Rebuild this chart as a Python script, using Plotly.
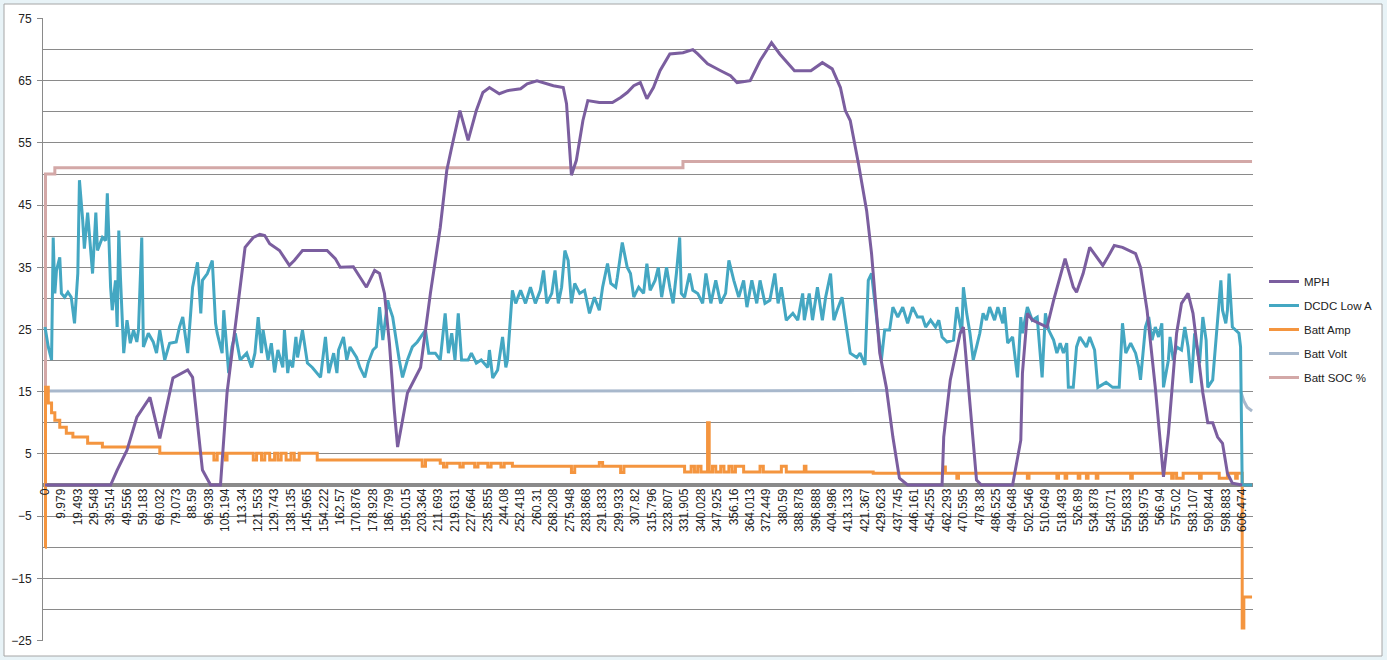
import plotly.graph_objects as go

# Category labels (time stamps), one label every 10 records
tick_labels = ["0", "9.979", "19.493", "29.548", "39.514", "49.556", "59.183", "69.032", "79.073", "88.59",
               "96.938", "105.194", "113.34", "121.553", "129.743", "138.135", "145.965", "154.222", "162.57",
               "170.876", "178.928", "186.799", "195.015", "203.364", "211.693", "219.631", "227.664", "235.855",
               "244.08", "252.418", "260.31", "268.208", "275.948", "283.868", "291.833", "299.933", "307.82",
               "315.796", "323.807", "331.905", "340.028", "347.925", "356.16", "364.013", "372.449", "380.59",
               "388.878", "396.888", "404.986", "413.133", "421.367", "429.623", "437.745", "446.161", "454.255",
               "462.293", "470.595", "478.38", "486.525", "494.648", "502.546", "510.649", "518.493", "526.89",
               "534.878", "543.071", "550.833", "558.975", "566.94", "575.02", "583.107", "590.844", "598.883",
               "606.474"]
tick_records = [10 * i for i in range(len(tick_labels))]

# MPH
mph_x = [0, 40, 44, 50, 56, 64, 70, 78, 87, 90, 96, 101, 107, 111, 122, 127, 131, 134, 137, 143, 149, 152, 157,
         172, 177, 180, 188, 192, 196, 201, 204, 207, 210, 213, 215, 218, 221, 229, 235, 241, 245, 248, 253, 258,
         263, 267, 271, 277, 282, 290, 294, 300, 306, 310, 316, 318, 321, 324, 328, 331, 338, 346, 351, 355, 359,
         363, 367, 371, 375, 381, 389, 395, 398, 404, 412, 418, 422, 430, 436, 443, 448, 457, 467, 474, 480, 485,
         488, 491, 496, 501, 504, 509, 513, 517, 521, 526, 547, 548, 552, 558, 560, 564, 568, 571, 590, 595, 596,
         599, 602, 611, 615, 622, 627, 629, 633, 637, 645, 648, 652, 657, 665, 668, 672, 677, 682, 685, 690, 693,
         697, 700, 706, 709, 712, 715, 718, 721, 724, 730]
mph_y = [0, 0, 2.4, 5.6, 10.9, 14.1, 7.5, 17.2, 18.5, 17.3, 2.4, 0, 0, 14.8, 38.2, 39.8, 40.3, 40.1, 38.8, 37.7,
         35.3, 36.1, 37.7, 37.7, 36.4, 35.0, 35.1, 33.4, 31.8, 34.5, 34.0, 30.8, 22.8, 12, 6.1, 10.4, 14.8, 18.9,
         30.8, 41.4, 50.6, 54.3, 60.2, 55.4, 60.2, 63.1, 63.9, 62.9, 63.4, 63.7, 64.5, 65, 64.5, 64.2, 63.9, 61.3,
         49.8, 52.2, 58.6, 61.8, 61.5, 61.5, 62.3, 63.1, 64.2, 64.7, 62.1, 63.9, 66.6, 69.3, 69.5, 70, 69.3, 67.7,
         66.6, 65.8, 64.7, 65, 68.2, 71.1, 69.3, 66.6, 66.6, 67.9, 66.9, 63.9, 60.2, 58.6, 51.7, 44.1, 37.2, 21.2,
         15.7, 7.7, 1.1, 0, 0, 7.7, 16.9, 24.4, 25.4, 13.2, 0.8, 0, 0, 7.2, 18, 27.6, 26.5, 25.4, 29.7, 36.4, 31.8,
         31, 34, 38.2, 35.3, 36.6, 38.5, 38.2, 37.2, 35, 28.1, 15.7, 1.3, 8.3, 24.4, 29.2, 30.8, 27.6, 14.8, 10,
         10, 7.7, 6.7, 1.9, 0.3, 0]

# DCDC Low A
dcdc_x = [0, 2, 4, 5, 6, 7, 9, 10, 12, 14, 16, 18, 20, 21, 23, 24, 26, 27, 29, 31, 32, 35, 37, 38, 40, 41, 43, 44,
          45, 46, 48, 50, 52, 54, 56, 57, 59, 60, 63, 66, 68, 70, 73, 76, 80, 82, 84, 87, 88, 90, 93, 95, 96, 99,
          102, 104, 105, 108, 109, 112, 114, 116, 119, 123, 126, 128, 130, 132, 133, 136, 138, 140, 142, 145, 146,
          148, 149, 151, 153, 154, 157, 160, 163, 168, 171, 173, 176, 178, 179, 182, 184, 186, 190, 192, 195, 197,
          200, 202, 204, 206, 209, 210, 212, 215, 216, 218, 221, 224, 227, 232, 234, 238, 241, 244, 246, 248, 250,
          252, 254, 258, 260, 263, 266, 270, 271, 273, 276, 279, 281, 282, 284, 285, 287, 290, 293, 296, 299, 302,
          304, 306, 309, 311, 313, 315, 317, 319, 321, 323, 326, 329, 332, 335, 338, 340, 343, 345, 348, 349, 352,
          355, 357, 359, 362, 365, 367, 369, 372, 374, 376, 379, 381, 383, 385, 387, 388, 390, 393, 395, 398, 401,
          403, 406, 409, 412, 415, 417, 420, 423, 426, 428, 431, 434, 436, 439, 442, 445, 447, 449, 452, 456, 459,
          462, 463, 466, 468, 471, 474, 476, 479, 481, 483, 486, 488, 491, 495, 497, 500, 502, 504, 506, 508, 510,
          512, 515, 517, 520, 523, 526, 529, 532, 535, 537, 540, 543, 545, 547, 550, 554, 556, 559, 560, 562, 564,
          566, 568, 570, 572, 574, 576, 579, 581, 584, 585, 587, 590, 593, 595, 596, 599, 602, 605, 607, 608, 610,
          612, 615, 617, 619, 621, 623, 624, 627, 629, 631, 635, 637, 640, 642, 647, 651, 655, 657, 659, 662, 665,
          667, 668, 671, 673, 675, 677, 679, 681, 682, 685, 686, 688, 690, 693, 695, 697, 699, 701, 704, 706, 708,
          709, 712, 713, 715, 717, 718, 720, 721, 722, 724, 726, 728, 729, 729.5, 730, 736]
dcdc_y = [25.4, 22.2, 20.1, 39.8, 30.8, 34.5, 36.6, 30.8, 30.2, 31, 30.2, 26, 34, 49, 42.5, 38, 43.8, 40.4, 34,
          43.8, 37.7, 39.8, 39.3, 46.9, 31.8, 28.1, 32.9, 25.4, 40.9, 33.4, 21.2, 26.5, 22.8, 24.9, 23, 24.9, 39.8,
          22.2, 24.4, 23, 21.2, 24.9, 20.1, 22.8, 23, 25.4, 27, 21.2, 24.4, 31.8, 35.8, 27.6, 32.9, 34, 36.1, 26,
          24.4, 21.2, 28.1, 18, 22.2, 24.4, 20.1, 21.2, 18.9, 21.2, 27, 21.2, 24.9, 20.1, 22.8, 18.1, 21.7, 18.9,
          24.9, 18, 20.1, 18.9, 23.8, 20.5, 24.9, 19.6, 18.9, 17.3, 23.8, 18, 21.2, 18, 21.7, 23.8, 20.1, 22.2,
          20.5, 18.9, 17.3, 19.6, 21.7, 22.2, 28.6, 23.3, 29.7, 28.6, 27, 21.2, 20.1, 17.3, 20.1, 22.2, 23, 24.9,
          21.2, 21.2, 20.1, 27.6, 21.2, 24.4, 20.1, 27.6, 20.1, 20.1, 21.2, 19.6, 20.1, 18.9, 21.7, 17.2, 18.5,
          23.8, 18.9, 20.1, 27, 31.3, 29.2, 31.3, 29.2, 31.8, 29.2, 31.3, 34.5, 29.2, 30.8, 34.5, 29.2, 31.8, 37.7,
          36.1, 29.2, 32.4, 30.8, 31.3, 27.6, 30.2, 28.1, 31.8, 35.6, 32.4, 31.8, 33.4, 39, 35, 34, 30.2, 31.8,
          30.8, 35.6, 31.3, 32.9, 35, 30.2, 35, 31.8, 29.2, 34, 39.8, 30.8, 30.2, 34, 31.3, 30.8, 29.2, 34, 29.2,
          32.9, 29.2, 30.8, 36.1, 32.9, 30.2, 32.9, 28.6, 32.9, 29.2, 32.9, 29.2, 29.7, 34, 29.2, 31.8, 26.5, 27.6,
          26.5, 30.8, 26.5, 30.8, 26.5, 31.8, 26.5, 30.2, 34, 26.5, 28.1, 30.2, 26.5, 21.2, 20.5, 21.2, 19.3, 32.9,
          34, 29.2, 23.8, 20.1, 24.9, 24.9, 28.6, 27, 28.6, 26, 28.6, 27, 27, 25.4, 26.5, 25.4, 26.5, 23.8, 23,
          23.3, 28.6, 24.4, 31.8, 27.6, 24.4, 20.1, 22.2, 24.4, 27.6, 26.5, 28.6, 26.5, 28.6, 26, 28.6, 22.8, 23.8,
          17.3, 27, 24.4, 28.6, 26.5, 27, 20.1, 17.3, 27.6, 24.9, 23.3, 21.2, 22.8, 21.2, 22.8, 15.7, 15.7, 22.2,
          23.8, 22.2, 23.8, 21.7, 15.7, 16.5, 15.7, 15.7, 26, 21.2, 22.8, 21.2, 18.9, 16.9, 25.4, 27, 23.3, 25.4,
          23.8, 26, 15.7, 20.1, 23.8, 20.1, 22.2, 21.7, 25.4, 22.2, 16.4, 24.4, 19.6, 27, 23.3, 15.7, 16.9, 20.1,
          25.4, 32.9, 28.1, 26, 28.1, 34, 25.4, 24.9, 24.4, 22.2, 9.3, 0, 0]

# Batt Amp (stepped)
amp_x = [0, 0.3, 2, 4, 6, 9, 13, 17, 26, 35, 70, 103, 105, 110, 111, 127, 129, 132, 134, 137, 140, 142, 144, 147,
         150, 152, 155, 166, 230, 232, 241, 243, 245, 253, 255, 262, 264, 270, 272, 278, 280, 285, 321, 323, 338,
         340, 351, 353, 390, 394, 396, 398, 400, 404, 405, 407, 409, 412, 414, 417, 419, 421, 426, 436, 438, 449,
         452, 463, 464, 505, 548, 549, 556, 557, 599, 600, 617, 618, 622, 623, 630, 631, 635, 636, 641, 642, 662,
         663, 687, 688, 690, 694, 704, 705, 716, 721, 726, 727, 730, 731, 736]
amp_y = [-10, 15.7, 13.2, 11.6, 10.4, 9.3, 8.3, 7.7, 6.7, 6.1, 5.1, 4.0, 5.1, 4.0, 5.1, 4.0, 5.1, 4.0, 5.1, 4.0,
         5.1, 4.0, 5.1, 4.0, 5.1, 4.0, 5.1, 4.0, 3.0, 4.0, 3.5, 2.9, 3.5, 2.9, 3.5, 2.9, 3.5, 2.9, 3.5, 2.9, 3.5,
         3.0, 2.0, 3.0, 3.6, 3.0, 2.0, 3.0, 2.1, 3.0, 2.1, 3.0, 2.1, 10, 2.1, 3.0, 2.1, 3.0, 2.1, 3.0, 2.1, 3.0,
         2.1, 3.0, 2.1, 3.0, 2.1, 3.0, 2.1, 1.9, 2.9, 1.9, 1.1, 1.9, 1.1, 1.9, 1.1, 1.9, 1.1, 1.9, 1.1, 1.9, 1.1,
         1.9, 1.1, 1.9, 1.1, 1.9, 1.1, 1.9, 1.1, 1.9, 1.1, 1.9, 1.1, 1.9, 1.1, 1.9, -23, -18, -18]

# Batt Volt
volt_x = [0, 120, 300, 500, 729, 731, 733, 735, 736]
volt_y = [15.1, 15.2, 15.1, 15.2, 15.1, 13.5, 12.5, 12.0, 11.9]

# Batt SOC %
soc_x = [0, 0.3, 6, 389, 736]
soc_y = [0, 50, 51, 52, 52]

colors = {"MPH": "#7B5E9F", "DCDC Low A": "#44A7C2", "Batt Amp": "#F4953F",
          "Batt Volt": "#A8B8CC", "Batt SOC %": "#D3A8A7"}

fig = go.Figure()
series = [
    ("Batt SOC %", soc_x, soc_y, "hv", 5),
    ("Batt Volt", volt_x, volt_y, "linear", 4),
    ("Batt Amp", amp_x, amp_y, "hv", 3),
    ("DCDC Low A", dcdc_x, dcdc_y, "linear", 2),
    ("MPH", mph_x, mph_y, "linear", 1),
]
for name, xs, ys, shape, rank in series:
    fig.add_trace(go.Scatter(x=xs, y=ys, mode="lines", name=name, legendrank=rank,
                             legendgroup=name,
                             line=dict(color=colors[name], width=3, shape=shape)))

L, R, T, B = 43, 1253, 18, 641
W, H = 1387, 660
pw, ph = R - L, B - T

def px_x(p):
    return (p - L) / pw

def px_y(p):
    return 1 - (p - T) / ph

fig.update_layout(
    width=W, height=H,
    margin=dict(l=L, r=W - R, t=T, b=H - B, pad=0, autoexpand=False),
    paper_bgcolor="#E8F3F7",
    plot_bgcolor="white",
    font=dict(family="Liberation Sans, Arial, sans-serif", size=12, color="#222222"),
    showlegend=True,
    legend=dict(x=px_x(1264), y=px_y(267), xanchor="left", yanchor="top",
                bgcolor="rgba(0,0,0,0)", font=dict(size=11.5, color="#222222"),
                tracegroupgap=5),
    shapes=[dict(type="rect", xref="paper", yref="paper",
                 x0=px_x(4), x1=px_x(1382), y0=px_y(656), y1=px_y(4),
                 fillcolor="white", line=dict(color="#A6A6A6", width=1), layer="below")],
)

fig.update_xaxes(
    range=[(L - 45) / 1.64, (R - 45) / 1.64],
    tickmode="array", tickvals=tick_records, ticktext=tick_labels,
    tickangle=-90, showgrid=False, zeroline=False, showline=False,
    anchor="free", position=0.25, ticks="",
    tickfont=dict(size=12, color="#222222"),
)
fig.update_yaxes(
    range=[-25.08, 75.08], tick0=5, dtick=10,
    showgrid=True, gridcolor="#8A8A8A", gridwidth=1,
    minor=dict(dtick=5, tick0=0, showgrid=True, gridcolor="#8A8A8A", gridwidth=1),
    zeroline=True, zerolinecolor="#8A8A8A", zerolinewidth=4,
    showline=True, linecolor="#8A8A8A", linewidth=1,
    ticks="outside", ticklen=5, tickcolor="#8A8A8A", ticklabelstandoff=3,
    tickfont=dict(size=12, color="#222222"),
)

fig.write_html("out.html")
